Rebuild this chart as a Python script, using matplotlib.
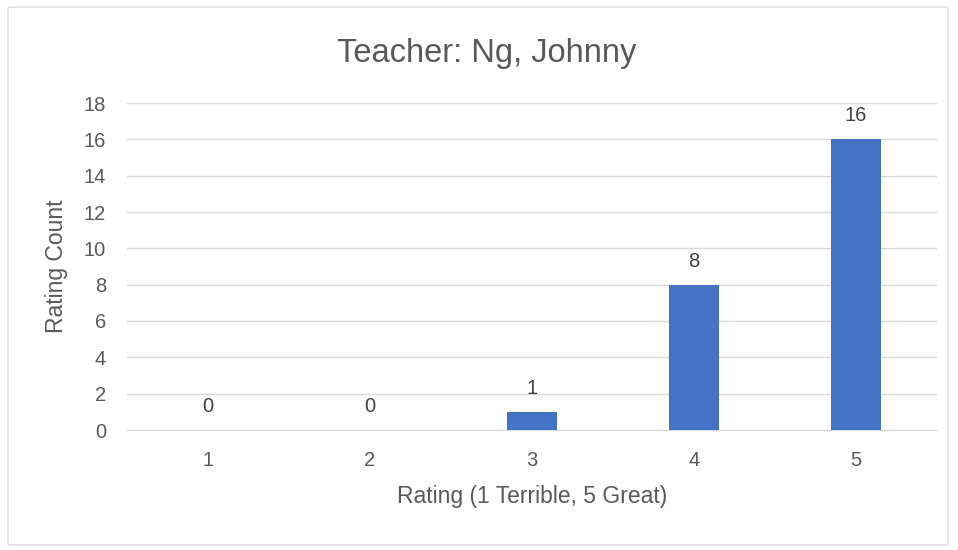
import matplotlib
matplotlib.use("Agg")
import matplotlib.pyplot as plt
from matplotlib.patches import FancyBboxPatch

categories = ["1", "2", "3", "4", "5"]
counts = [0, 0, 1, 8, 16]
yticks = [0, 2, 4, 6, 8, 10, 12, 14, 16, 18]

plt.rcParams['font.family'] = ['Liberation Sans', 'DejaVu Sans']
txt = '#595959'

fig = plt.figure(figsize=(9.58, 5.5), dpi=100)
border = FancyBboxPatch((8/958, 5/550), 940/958, 538/550, boxstyle="round,pad=0,rounding_size=0.004",
                        transform=fig.transFigure, fill=False, edgecolor='#D9D9D9', linewidth=1)
fig.patches.append(border)

ax = fig.add_axes([127/958, 1-430/550, 810/958, 327/550])
x = list(range(1, len(categories)+1))
ax.bar(x, counts, width=0.31, color='#4472C4', zorder=3)
for xi, c in zip(x, counts):
    ax.text(xi, c + 0.99, str(c), ha='center', va='baseline', fontsize=14.5, color='#404040')

ax.set_xlim(0.5, 5.5)
ax.set_ylim(0, 18)
ax.set_yticks(yticks)
ax.set_xticks(x)
ax.set_xticklabels(categories)
ax.yaxis.grid(True, color='#D9D9D9', linewidth=1, zorder=0)
for s in ['top', 'right', 'left']:
    ax.spines[s].set_visible(False)
ax.spines['bottom'].set_color('#D9D9D9')
ax.tick_params(axis='y', length=0, labelsize=14.5, colors=txt, pad=15)
ax.tick_params(axis='x', length=0, labelsize=14.5, colors=txt, pad=15)
ax.set_xlabel("Rating (1 Terrible, 5 Great)", fontsize=16.5, color=txt, va='center')
ax.set_ylabel("Rating Count", fontsize=16.5, color=txt, va='center')
ax.xaxis.set_label_coords(0.5, (430-497)/327)
ax.yaxis.set_label_coords((57-127)/810, 0.5)
fig.text(487/958, 1-62/550, "Teacher: Ng, Johnny", ha='center', va='baseline', fontsize=23.5, color=txt)

fig.savefig("out.png", dpi=100)
